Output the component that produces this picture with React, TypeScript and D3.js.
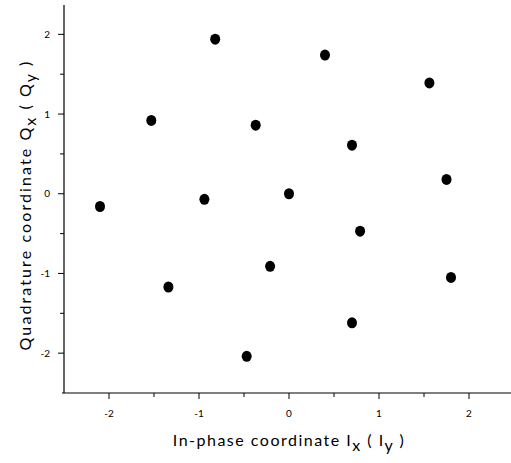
import React from "react";
import * as d3 from "d3";

const xValues = [-0.82, 0.40, 1.56, -1.53, -0.37, 0.70, 1.75, 0.0, -0.94, -2.10, 0.79, -0.21, -1.34, 1.80, 0.70, -0.47];
const yValues = [1.94, 1.74, 1.39, 0.92, 0.86, 0.61, 0.18, 0.0, -0.07, -0.16, -0.47, -0.91, -1.17, -1.05, -1.62, -2.04];
const majorTicks = [-2, -1, 0, 1, 2];
const minorTicks = [-1.5, -0.5, 0.5, 1.5];
const xTitle = "In-phase coordinate";
const yTitle = "Quadrature coordinate";

export default function App() {
  const W = 511, H = 463;
  const x = d3.scaleLinear().domain([-2.5, 2.5]).range([64, 514]);
  const y = d3.scaleLinear().domain([-2.5, 2.5]).range([393, 393 - 5 * 79.7]);
  const yTop = 5;
  const font = "Lato, 'Open Sans', sans-serif";
  return (
    <svg width={W} height={H} style={{ position: "absolute", left: 0, top: 0 }} fontFamily={font}>
      <rect width={W} height={H} fill="#fff" />
      <line x1={x(-2.5)} x2={x(-2.5)} y1={yTop} y2={y(-2.5)} stroke="#000" strokeWidth={1.2} />
      <line x1={x(-2.5) - 2} x2={W} y1={y(-2.5)} y2={y(-2.5)} stroke="#000" strokeWidth={1.2} />
      {majorTicks.map((t) => (
        <g key={"ym" + t}>
          <line x1={x(-2.5) - 6} x2={x(-2.5)} y1={y(t)} y2={y(t)} stroke="#000" strokeWidth={1} />
          <text x={50} y={y(t)} dy="0.35em" textAnchor="end" fontSize={10} fill="#000">{t}</text>
        </g>
      ))}
      {minorTicks.map((t) => (
        <line key={"yn" + t} x1={x(-2.5) - 4} x2={x(-2.5)} y1={y(t)} y2={y(t)} stroke="#000" strokeWidth={1} />
      ))}
      {majorTicks.map((t) => (
        <g key={"xm" + t}>
          <line x1={x(t)} x2={x(t)} y1={y(-2.5)} y2={y(-2.5) + 6} stroke="#000" strokeWidth={1} />
          <text x={x(t)} y={417} textAnchor="middle" fontSize={10} fill="#000">{t}</text>
        </g>
      ))}
      {minorTicks.map((t) => (
        <line key={"xn" + t} x1={x(t)} x2={x(t)} y1={y(-2.5)} y2={y(-2.5) + 4} stroke="#000" strokeWidth={1} />
      ))}
      {xValues.map((v, i) => (
        <ellipse key={i} cx={x(v)} cy={y(yValues[i])} rx={5} ry={5.5} fill="#000" />
      ))}
      <text x={289} y={446} textAnchor="middle" fontSize={16} letterSpacing={1.5} fill="#000">
        {xTitle} I<tspan dy={5}>x</tspan><tspan dy={-5}> ( I</tspan><tspan dy={5}>y</tspan><tspan dy={-5}> )</tspan>
      </text>
      <text transform={`translate(31,205) rotate(-90)`} textAnchor="middle" fontSize={16} letterSpacing={2.1} fill="#000">
        {yTitle} Q<tspan dy={5}>x</tspan><tspan dy={-5}> ( Q</tspan><tspan dy={5}>y</tspan><tspan dy={-5}> )</tspan>
      </text>
    </svg>
  );
}
